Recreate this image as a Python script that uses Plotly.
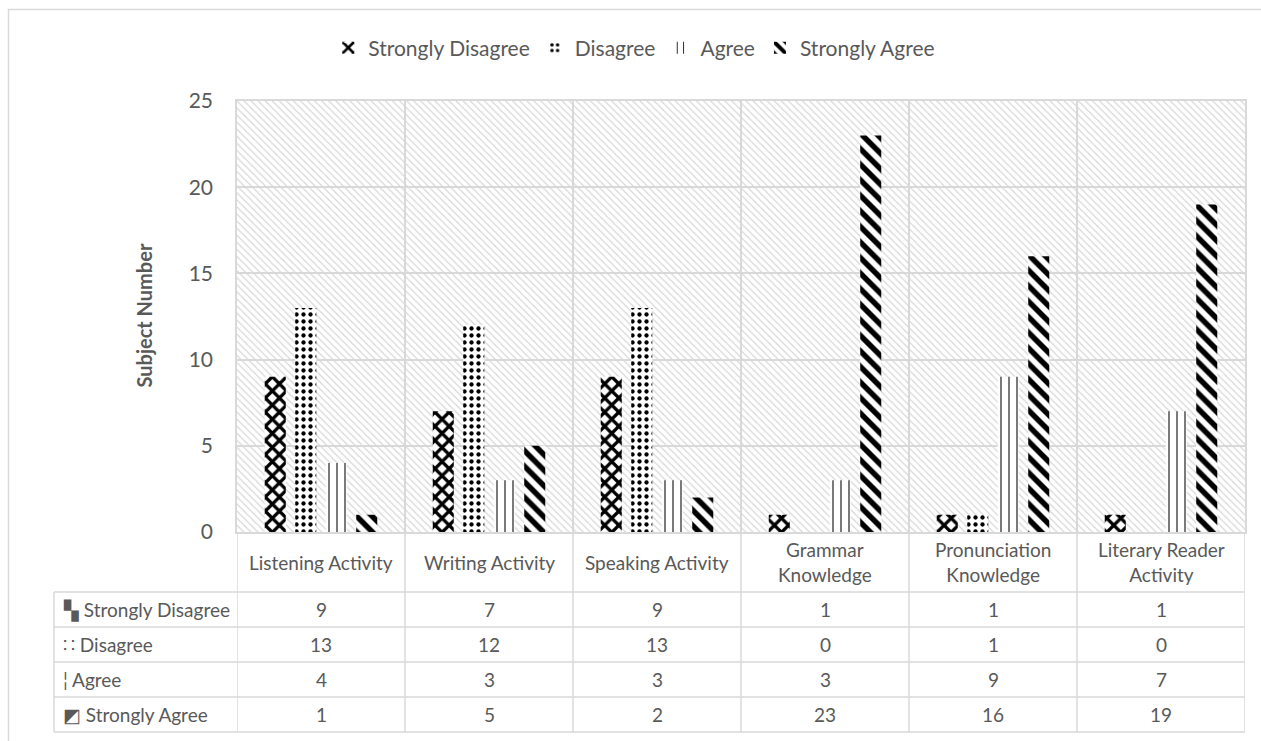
import plotly.graph_objects as go

# ---- data ---------------------------------------------------------------
categories = [
    "Listening Activity",
    "Writing Activity",
    "Speaking Activity",
    "Grammar Knowledge",
    "Pronunciation Knowledge",
    "Literary Reader Activity",
]
header_labels = [
    "Listening Activity",
    "Writing Activity",
    "Speaking Activity",
    "Grammar<br>Knowledge",
    "Pronunciation<br>Knowledge",
    "Literary Reader<br>Activity",
]
series_names = ["Strongly Disagree", "Disagree", "Agree", "Strongly Agree"]
strongly_disagree = [9, 7, 9, 1, 1, 1]
disagree = [13, 12, 13, 0, 1, 0]
agree = [4, 3, 3, 3, 9, 7]
strongly_agree = [1, 5, 2, 23, 16, 19]
y_ticks = [0, 5, 10, 15, 20, 25]
y_title = "Subject Number"

series_values = [strongly_disagree, disagree, agree, strongly_agree]
row_keys = ["▚", "∷", "¦", "◩"]

# ---- styling --------------------------------------------------------------
W, H = 1261, 741
FONT = "Lato"
TXT = "#595959"
GRID = "#d9d9d9"
FS = 19

patterns = [
    dict(shape="x", size=10, solidity=0.55),
    dict(shape=".", size=7, solidity=0.3),
    dict(shape="|", size=8, solidity=0.13),
    dict(shape="\\", size=11, solidity=0.5),
]


def px_x(p):
    return p / W


def px_y(p):
    return 1 - p / H


# plot area in pixels
PL, PR, PT, PB = 237, 1245, 101, 532
# table geometry in pixels
TAB_LEFT = 54
HEADER_BOTTOM = 592
ROW_H = 35

fig = go.Figure()

# hatched fill of the plot area (drawn on the base axes, beneath the bars)
fig.add_trace(go.Bar(
    x=[categories[0]], y=[y_ticks[-1]], width=[len(categories)], offset=[-0.5],
    xaxis="x", yaxis="y", showlegend=False, hoverinfo="skip",
    marker=dict(color="rgba(0,0,0,0)", line=dict(width=0),
                pattern=dict(shape="\\", size=5, solidity=0.24, fgopacity=1,
                             fgcolor="#d6d6d6", bgcolor="rgba(0,0,0,0)")),
))

for name, vals, pat in zip(series_names, series_values, patterns):
    fig.add_trace(go.Bar(
        name=name, x=categories, y=vals, xaxis="x2", yaxis="y2",
        marker=dict(color="white", line=dict(width=0),
                    pattern=dict(fgcolor="black", bgcolor="white",
                                 fgopacity=1, **pat)),
    ))

axis_common = dict(categoryorder="array", categoryarray=categories,
                   range=[-0.5, len(categories) - 0.5])

fig.update_layout(
    template="none",
    width=W, height=H,
    margin=dict(l=0, r=0, t=0, b=0, autoexpand=False),
    paper_bgcolor="white", plot_bgcolor="white",
    font=dict(family=FONT, size=FS, color=TXT),
    barmode="group", bargap=0.274, bargroupgap=0.31,
    xaxis=dict(type="category", domain=[px_x(PL), px_x(PR)], showticklabels=False,
               ticks="", tickson="boundaries", showgrid=True, gridcolor=GRID,
               gridwidth=1.5, showline=True, mirror=True, linecolor=GRID,
               linewidth=1.5, zeroline=False, automargin=False, **axis_common),
    yaxis=dict(domain=[px_y(PB), px_y(PT)], range=[0, y_ticks[-1]],
               tickvals=y_ticks, ticks="", showgrid=True, gridcolor=GRID,
               gridwidth=1.5, zeroline=False, showline=True, mirror=True,
               linecolor=GRID, linewidth=1.5, ticklabelstandoff=18,
               automargin=False, tickfont=dict(size=FS + 2, color=TXT)),
    xaxis2=dict(type="category", overlaying="x", visible=False, **axis_common),
    yaxis2=dict(overlaying="y", visible=False, range=[0, y_ticks[-1]]),
    legend=dict(orientation="h", x=0.503, xanchor="center", y=px_y(48),
                yanchor="middle", font=dict(size=FS + 2, color=TXT),
                traceorder="normal", bgcolor="rgba(0,0,0,0)"),
)

# y-axis title
fig.add_annotation(x=px_x(143.5), y=px_y(316), xref="paper", yref="paper",
                   xanchor="center", yanchor="middle",
                   text=f"<b>{y_title}</b>", textangle=-90, showarrow=False,
                   font=dict(size=FS + 1, color=TXT))

# outer chart frame
fig.add_shape(type="rect", xref="paper", yref="paper",
              x0=px_x(8.5), x1=1.2, y0=-0.2, y1=px_y(9.5),
              line=dict(color=GRID, width=1.5), fillcolor="rgba(0,0,0,0)")

# ---- data table below the plot -------------------------------------------
n_rows = len(series_names)
table_bottom = HEADER_BOTTOM + n_rows * ROW_H
line_style = dict(color=GRID, width=1.5)

# column borders at the category boundaries
for i in range(len(categories) + 1):
    fig.add_shape(type="line", xref="x", yref="paper",
                  x0=i - 0.5, x1=i - 0.5, y0=px_y(table_bottom), y1=px_y(PB),
                  line=line_style)
# left border of the row-label column
fig.add_shape(type="line", xref="paper", yref="paper",
              x0=px_x(TAB_LEFT), x1=px_x(TAB_LEFT),
              y0=px_y(table_bottom), y1=px_y(HEADER_BOTTOM), line=line_style)
# row borders
for r in range(n_rows + 1):
    yy = px_y(HEADER_BOTTOM + r * ROW_H)
    fig.add_shape(type="line", xref="paper", yref="paper",
                  x0=px_x(TAB_LEFT), x1=px_x(PR), y0=yy, y1=yy, line=line_style)

# header cells
for cat, lab in zip(categories, header_labels):
    fig.add_annotation(x=cat, y=px_y((PB + HEADER_BOTTOM) / 2), xref="x",
                       yref="paper", xanchor="center", yanchor="middle",
                       text=lab, showarrow=False,
                       font=dict(size=FS, color=TXT), align="center")

# body cells
for r, (name, vals, key) in enumerate(zip(series_names, series_values, row_keys)):
    yc = px_y(HEADER_BOTTOM + r * ROW_H + ROW_H / 2)
    fig.add_annotation(x=px_x(TAB_LEFT + 7), y=yc, xref="paper", yref="paper",
                       xanchor="left", yanchor="middle",
                       text=f"{key} {name}", showarrow=False,
                       font=dict(size=FS, color=TXT))
    for cat, v in zip(categories, vals):
        fig.add_annotation(x=cat, y=yc, xref="x", yref="paper",
                           xanchor="center", yanchor="middle", text=str(v),
                           showarrow=False, font=dict(size=FS, color=TXT))

fig.write_html("out.html")
